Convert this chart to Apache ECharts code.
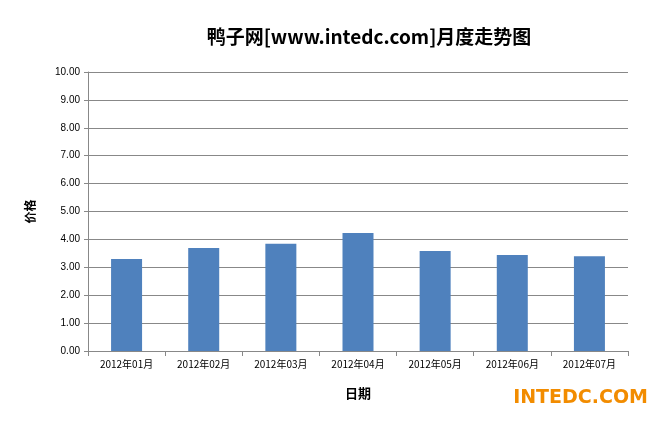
<!DOCTYPE html>
<html><head><meta charset="utf-8">
<script src="https://cdn.jsdelivr.net/npm/echarts@6/dist/echarts.min.js"></script>
<style>html,body{margin:0;padding:0;background:#fff}#c{width:671px;height:422px}</style>
</head><body><div id="c"></div>
<script>
const categories = ['2012年01月','2012年02月','2012年03月','2012年04月','2012年05月','2012年06月','2012年07月'];
const prices = [3.30, 3.69, 3.84, 4.23, 3.58, 3.44, 3.40];
const chart = echarts.init(document.getElementById('c'));
chart.setOption({
  animation:false,
  title:{text:'鸭子网[www.intedc.com]月度走势图',left:364,top:22,textAlign:'center',
    textStyle:{fontSize:19,fontWeight:'bold',color:'#000',fontFamily:'Noto Sans CJK SC'}},
  grid:{left:88,right:43,top:72,bottom:71},
  xAxis:{type:'category',data:categories,name:'日期',nameLocation:'middle',nameGap:36,
    nameTextStyle:{fontSize:13,fontWeight:'bold',color:'#000',fontFamily:'Noto Sans CJK SC'},
    axisLine:{lineStyle:{color:'#888'}},axisTick:{show:true,length:5,lineStyle:{color:'#888'}},
    axisLabel:{fontSize:10,color:'#000',fontFamily:'Noto Sans CJK SC'}},
  yAxis:{type:'value',min:0,max:10,interval:1,name:'价格',nameLocation:'middle',nameGap:52,nameRotate:90,
    nameTextStyle:{fontSize:12,fontWeight:'bold',color:'#000',fontFamily:'Noto Sans CJK SC'},
    axisLine:{show:true,lineStyle:{color:'#888'}},axisTick:{show:true,length:4,lineStyle:{color:'#888'}},
    axisLabel:{fontSize:10,color:'#000',formatter:v=>v.toFixed(2)},
    splitLine:{lineStyle:{color:'#888'}}},
  series:[{type:'bar',data:prices,barWidth:31,itemStyle:{color:'#4f81bd'}}],
  graphic:[{type:'text',right:23,bottom:14,style:{text:'INTEDC.COM',fontSize:19,fontWeight:'bold',
    fill:'#f28c00',fontFamily:'DejaVu Sans'}}]
});
</script></body></html>
